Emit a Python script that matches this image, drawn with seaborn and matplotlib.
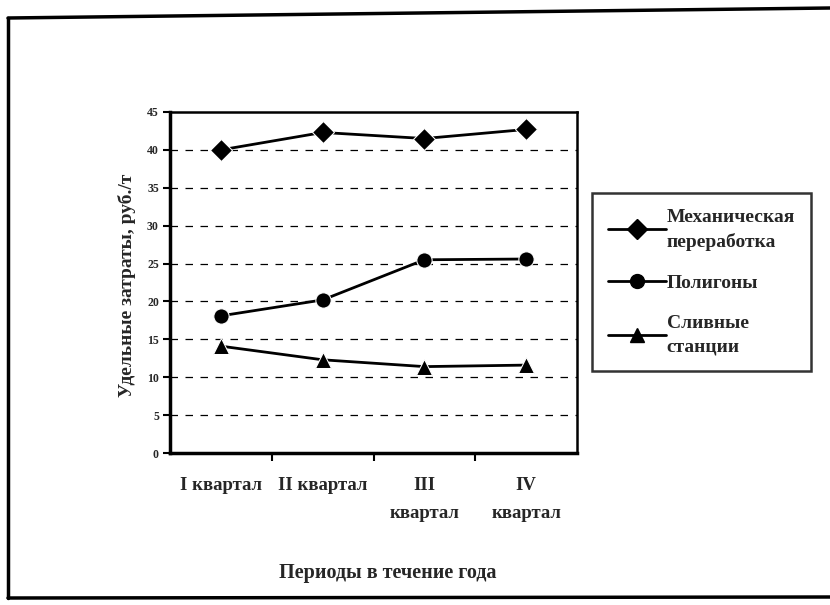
import matplotlib
matplotlib.use("Agg")
import matplotlib.pyplot as plt
import seaborn as sns
import pandas as pd
from matplotlib.lines import Line2D

quarters = ["I квартал", "II квартал", "III\nквартал", "IV\nквартал"]
mech = [40.0, 42.3, 41.5, 42.7]
poly = [18.1, 20.2, 25.5, 25.6]
sliv = [14.1, 12.3, 11.4, 11.6]
series_names = ["Механическая\nпереработка", "Полигоны", "Сливные\nстанции"]
yticks = [0, 5, 10, 15, 20, 25, 30, 35, 40, 45]
ylabel = "Удельные затраты, руб./т"
xlabel = "Периоды в течение года"

rows = []
for name, vals in zip(series_names, [mech, poly, sliv]):
    for i, v in enumerate(vals):
        rows.append({"pos": i, "val": v, "series": name})
df = pd.DataFrame(rows)

sns.set_theme(style="white")
plt.rcParams["font.family"] = ["Liberation Serif", "DejaVu Serif"]
plt.rcParams["font.weight"] = "bold"

fig = plt.figure(figsize=(8.3, 6.05), dpi=100)
ax = fig.add_axes([170/830, 1-453/605, 407/830, 341/605])

markers = {series_names[0]: "D", series_names[1]: "o", series_names[2]: "^"}
sns.lineplot(data=df, x="pos", y="val", hue="series", style="series",
             markers=markers, dashes=False, palette=["black"]*3,
             markersize=11, linewidth=2, ax=ax, legend=False)

ax.set_xlim(-0.5, 3.5)
ax.set_ylim(0, 45)
ax.set_yticks(yticks)
ax.set_yticklabels([str(t) for t in yticks], fontsize=8.5, fontweight="heavy")
ax.set_xticks(range(4))
ax.set_xticklabels(quarters, fontsize=13.5, fontweight="bold", linespacing=1.85)
ax.tick_params(axis="x", length=0, pad=17)
ax.set_xticks([0.5, 1.5, 2.5], minor=True)
ax.tick_params(axis="x", which="minor", length=6, width=1.5, direction="out", color="black", bottom=True)
ax.tick_params(axis="y", length=5, width=1.5, direction="out", color="black", left=True, pad=3)
for t in yticks[1:-1]:
    ax.axhline(t, color="black", linestyle=(0, (6, 6)), linewidth=0.9, zorder=0)
for side, lw in [("left", 2.5), ("bottom", 2.5), ("top", 1.8), ("right", 1.8)]:
    ax.spines[side].set_visible(True)
    ax.spines[side].set_color("black")
    ax.spines[side].set_linewidth(lw)
ax.set_xlabel("")
ax.set_ylabel("")

fig.text(127/830, 1-285/605, ylabel, rotation=90, ha="center", va="center",
         fontsize=14, fontweight="bold")
fig.text(388/830, 1-573/605, xlabel, ha="center", va="center",
         fontsize=14.5, fontweight="bold")

handles = [Line2D([], [], color="black", linewidth=2, marker=markers[n], markersize=10)
           for n in series_names]
leg = fig.legend(handles, series_names, loc="upper left",
                 bbox_to_anchor=(592/830, 1-193/605), bbox_transform=fig.transFigure,
                 frameon=True, fancybox=False, edgecolor="black", handlelength=3.0,
                 handletextpad=0.05, labelspacing=1.2, borderpad=0.8, borderaxespad=0,
                 prop={"family": "Liberation Serif", "weight": "bold", "size": 14})
for t in leg.get_texts():
    t.set_linespacing(1.5)
leg.get_frame().set_linewidth(1.8)

# outer frame
fig.add_artist(Line2D([8/830, 8/830], [1-18/605, 1-598/605], color="black", lw=2.5, transform=fig.transFigure))
fig.add_artist(Line2D([8/830, 830/830], [1-18/605, 1-8/605], color="black", lw=2.5, transform=fig.transFigure))
fig.add_artist(Line2D([8/830, 830/830], [1-598/605, 1-597/605], color="black", lw=2.5, transform=fig.transFigure))

fig.savefig("out.png", dpi=100, facecolor="white")
